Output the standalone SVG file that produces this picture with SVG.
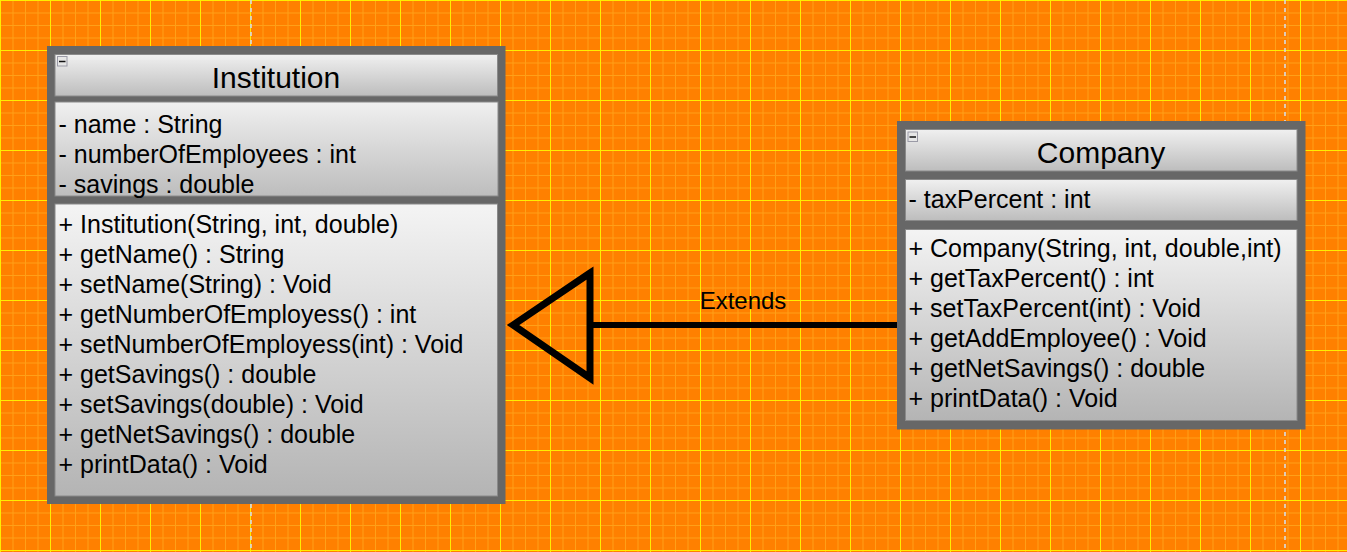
<svg xmlns="http://www.w3.org/2000/svg" width="1347" height="552" viewBox="0 0 1347 552">
<style>
.frame{fill:#676767}
.comp{stroke:#8a8a8a;stroke-width:1}
.hdr{fill:url(#gHdr)}
.body{fill:url(#gBody)}
.title{font-family:"Liberation Sans",Arial,sans-serif;font-size:30px;fill:#000;text-anchor:middle}
.txt{font-family:"Liberation Sans",Arial,sans-serif;font-size:25px;fill:#000}
.lbl{font-family:"Liberation Sans",Arial,sans-serif;font-size:24px;fill:#000;text-anchor:middle}
.btn{fill:#e6e6e6;stroke:#9a9aa6;stroke-width:1}
.btnl{stroke:#111;stroke-width:1.5}
.page{stroke:#d8d8d8;stroke-width:2;stroke-dasharray:4 4;opacity:0.85}
</style>
<defs>
<linearGradient id="gHdr" x1="0" y1="0" x2="0" y2="1">
<stop offset="0" stop-color="#f0f0f0"/>
<stop offset="1" stop-color="#bdbdbd"/>
</linearGradient>
<linearGradient id="gBody" x1="0" y1="0" x2="0" y2="1">
<stop offset="0" stop-color="#f4f4f4"/>
<stop offset="1" stop-color="#b4b4b4"/>
</linearGradient>
<pattern id="grid" x="0" y="0" width="50" height="50" patternUnits="userSpaceOnUse">
<rect width="50" height="50" fill="#ff8000"/>
<g stroke="#ffa018" stroke-width="1">
<line x1="13" y1="0" x2="13" y2="50"/>
<line x1="25.5" y1="0" x2="25.5" y2="50"/>
<line x1="38" y1="0" x2="38" y2="50"/>
<line x1="0" y1="13" x2="50" y2="13"/>
<line x1="0" y1="25.5" x2="50" y2="25.5"/>
<line x1="0" y1="38" x2="50" y2="38"/>
</g>
<g stroke="#ffee00" stroke-width="1">
<line x1="0.5" y1="0" x2="0.5" y2="50"/>
<line x1="0" y1="0.5" x2="50" y2="0.5"/>
</g>
</pattern>
</defs>
<rect width="1347" height="552" fill="url(#grid)"/>
<line class="page" x1="251" y1="0" x2="251" y2="552"/>
<line class="page" x1="1285" y1="0" x2="1285" y2="552"/>

<g id="connectors">
<line x1="590" y1="325" x2="901" y2="325" stroke="#000" stroke-width="6"/>
<path d="M590,273 L513,325 L590,378 Z" fill="none" stroke="#000" stroke-width="7" stroke-linejoin="miter"/>
<text class="lbl" x="743" y="308.5">Extends</text>
</g>

<g id="node-institution">
<rect class="frame" x="47" y="46" width="458.5" height="458"/>
<rect class="comp hdr" x="55" y="54.5" width="442.5" height="41.5"/>
<rect class="comp hdr" x="55" y="102" width="443" height="94"/>
<rect class="comp body" x="55" y="204" width="442.5" height="292"/>
<rect class="btn" x="57.5" y="56.5" width="9.5" height="9.5"/>
<line class="btnl" x1="59" y1="61.5" x2="65.5" y2="61.5"/>
<text class="title" x="276" y="87.5">Institution</text>
<text class="txt" x="58.5" y="132.5">- name : String</text>
<text class="txt" x="58.5" y="162.5">- numberOfEmployees : int</text>
<text class="txt" x="58.5" y="192.5">- savings : double</text>
<text class="txt" x="58.5" y="232.5">+ Institution(String, int, double)</text>
<text class="txt" x="58.5" y="262.5">+ getName() : String</text>
<text class="txt" x="58.5" y="292.5">+ setName(String) : Void</text>
<text class="txt" x="58.5" y="322.5">+ getNumberOfEmployess() : int</text>
<text class="txt" x="58.5" y="352.5">+ setNumberOfEmployess(int) : Void</text>
<text class="txt" x="58.5" y="382.5">+ getSavings() : double</text>
<text class="txt" x="58.5" y="412.5">+ setSavings(double) : Void</text>
<text class="txt" x="58.5" y="442.5">+ getNetSavings() : double</text>
<text class="txt" x="58.5" y="472.5">+ printData() : Void</text>
</g>

<g id="node-company">
<rect class="frame" x="897" y="121" width="408.5" height="308.5"/>
<rect class="comp hdr" x="905.5" y="129.5" width="391.5" height="41.5"/>
<rect class="comp hdr" x="905.5" y="179.5" width="391.5" height="41"/>
<rect class="comp body" x="905.5" y="229.5" width="391.5" height="191"/>
<rect class="btn" x="908" y="132" width="9.5" height="9.5"/>
<line class="btnl" x1="909.5" y1="137" x2="916" y2="137"/>
<text class="title" x="1101" y="163">Company</text>
<text class="txt" x="908.5" y="208">- taxPercent : int</text>
<text class="txt" x="908.5" y="256.5">+ Company(String, int, double,int)</text>
<text class="txt" x="908.5" y="286.5">+ getTaxPercent() : int</text>
<text class="txt" x="908.5" y="316.5">+ setTaxPercent(int) : Void</text>
<text class="txt" x="908.5" y="346.5">+ getAddEmployee() : Void</text>
<text class="txt" x="908.5" y="376.5">+ getNetSavings() : double</text>
<text class="txt" x="908.5" y="406.5">+ printData() : Void</text>
</g>
</svg>
